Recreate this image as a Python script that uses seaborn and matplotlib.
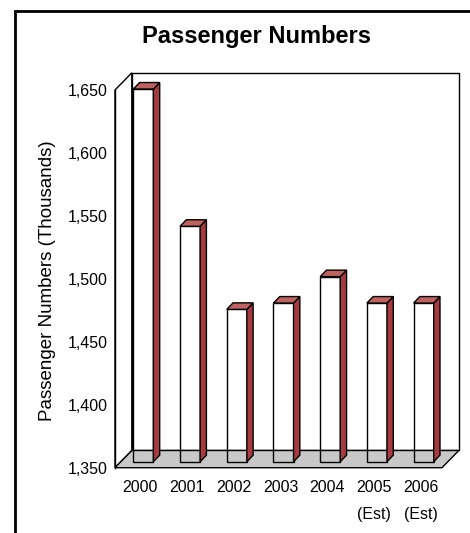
import numpy as np
import pandas as pd
import matplotlib
matplotlib.use("Agg")
import matplotlib.pyplot as plt
import matplotlib.transforms as mtrans
import matplotlib.patches as mpatches
import seaborn as sns

# ---- data ----
years = ["2000", "2001", "2002", "2003", "2004", "2005", "2006"]
tick_labels = ["2000", "2001", "2002", "2003", "2004", "2005\n(Est)", "2006\n(Est)"]
passengers = [1646, 1537, 1471, 1476, 1497, 1476, 1476]
y_ticks = [1350, 1400, 1450, 1500, 1550, 1600, 1650]
title = "Passenger Numbers"
ylabel = "Passenger Numbers (Thousands)"

# ---- styling constants ----
W, H, DPI = 470, 533, 100
SIDE = "#A53A3F"
TOP = "#C0625D"
FLOOR = "#C8C8C8"
WALL_D = (16.8, 17.2)    # depth of walls (px, right / up)
BAR_OFF = (5.0, 6.0)     # bar front-face offset from front plane (px)
BAR_D = (6.3, 6.5)       # depth of each bar (px)

sns.set_style("white")
plt.rcParams["font.family"] = ["Liberation Sans", "DejaVu Sans"]
plt.rcParams["text.color"] = "black"
plt.rcParams["axes.labelcolor"] = "black"
plt.rcParams["xtick.color"] = "black"
plt.rcParams["ytick.color"] = "black"

fig = plt.figure(figsize=(W / DPI, H / DPI), dpi=DPI)
fig.patch.set_facecolor("white")


def px_rect(l, t, r, b):
    return [l / W, 1 - b / H, (r - l) / W, (b - t) / H]


ax = fig.add_axes(px_rect(115, 90, 442, 467.7))
ax.patch.set_alpha(0)

df = pd.DataFrame({"year": years, "passengers": passengers})
sns.barplot(data=df, x="year", y="passengers", order=years, ax=ax,
            color="white", edgecolor="black", linewidth=1.0,
            width=0.43, errorbar=None, zorder=3)

ymin, ymax = y_ticks[0], y_ticks[-1]
ax.set_xlim(-0.5, len(years) - 0.5)
ax.set_ylim(ymin, ymax)
ax.autoscale(False)

ident = mtrans.IdentityTransform()
bar_tr = ax.transData + mtrans.Affine2D().translate(*BAR_OFF)


def d(x, y):
    return np.array(ax.transData.transform((x, y)))


# floor and walls
x0, x1 = -0.5, len(years) - 0.5
fl, fr = d(x0, ymin), d(x1, ymin)
tl = d(x0, ymax)
Dv = np.array(WALL_D)
back_wall = mpatches.Polygon([fl + Dv, fr + Dv, d(x1, ymax) + Dv, tl + Dv],
                             closed=True, facecolor="white", edgecolor="black",
                             lw=1.0, transform=ident, zorder=0.5, clip_on=False)
left_wall = mpatches.Polygon([fl, tl, tl + Dv, fl + Dv], closed=True,
                             facecolor="white", edgecolor="black", lw=1.0,
                             transform=ident, zorder=0.6, clip_on=False)
floor = mpatches.Polygon([fl, fr, fr + Dv, fl + Dv], closed=True,
                         facecolor=FLOOR, edgecolor="black", lw=1.0,
                         transform=ident, zorder=0.7, clip_on=False)
for p in (back_wall, left_wall, floor):
    ax.add_patch(p)

# bars: transparent front faces, red side and top faces
Bv = np.array(BAR_D)
bars = [p for p in ax.patches if isinstance(p, mpatches.Rectangle)]
for p in bars:
    val = p.get_y() + p.get_height()
    p.set_y(ymin)
    p.set_height(val - ymin)
    p.set_facecolor("none")
    p.set_edgecolor("black")
    p.set_transform(bar_tr)
    p.set_clip_on(False)
    bx0, bx1 = p.get_x(), p.get_x() + p.get_width()
    a = np.array(bar_tr.transform((bx0, val)))
    b = np.array(bar_tr.transform((bx1, val)))
    c = np.array(bar_tr.transform((bx1, ymin)))
    side = mpatches.Polygon([b, c, c + Bv, b + Bv], closed=True,
                            facecolor=SIDE, edgecolor="black", lw=1.0,
                            transform=ident, zorder=3.5, clip_on=False)
    top = mpatches.Polygon([a, b, b + Bv, a + Bv], closed=True,
                           facecolor=TOP, edgecolor="black", lw=1.0,
                           transform=ident, zorder=3.6, clip_on=False)
    ax.add_patch(side)
    ax.add_patch(top)

# axes / ticks
for s in ("top", "right", "bottom"):
    ax.spines[s].set_visible(False)
ax.spines["left"].set_color("black")
ax.spines["left"].set_linewidth(1.0)
ax.spines["left"].set_zorder(2)
ax.set_yticks(y_ticks)
ax.set_yticklabels([f"{v:,}" for v in y_ticks])
ax.tick_params(axis="y", length=0, pad=5, labelsize=11.5, labelcolor="black")
ax.set_xticks(range(len(years)))
ax.set_xticklabels(tick_labels, linespacing=2.0)
ax.tick_params(axis="x", length=0, pad=8.8, labelsize=11.5, labelcolor="black")
for lbl in ax.get_xticklabels():
    lbl.set_transform(lbl.get_transform() + mtrans.Affine2D().translate(2, 0))
ax.set_xlabel("")
ax.set_ylabel("")

# titles
fig.text(256.7 / W, 1 - 43.3 / H, title, ha="center", va="baseline",
         fontsize=17, fontweight="bold", color="black")
fig.text(48 / W, 1 - 281 / H, ylabel, rotation=90, ha="center", va="center",
         fontsize=13.5, color="black")

# outer frame (cropped at right and bottom)
frame = mpatches.Rectangle((14.5, -10), W + 20, H - 10.5 + 10, fill=False,
                           edgecolor="black", lw=2.0, transform=ident,
                           clip_on=False)
fig.add_artist(frame)

fig.savefig("out.png", dpi=DPI)
